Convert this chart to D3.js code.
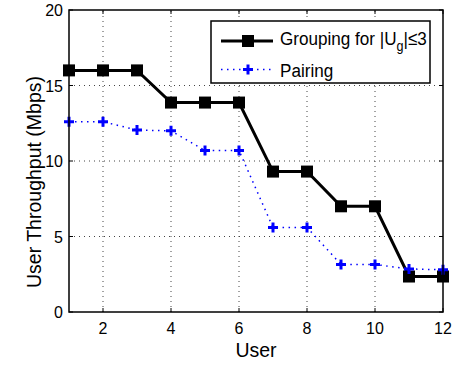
<!DOCTYPE html>
<html>
<head>
<meta charset="utf-8">
<script src="https://cdn.jsdelivr.net/npm/d3@7"></script>
<style>
  body { margin: 0; background: #fff; }
  text { font-family: "Liberation Sans", Arial, sans-serif; fill: #000; }
</style>
</head>
<body>
<svg></svg>
<script>
var width = 474;
var height = 367;

var margin = { left: 69, top: 10, right: 31, bottom: 55 };

// data
var users = [1, 2, 3, 4, 5, 6, 7, 8, 9, 10, 11, 12];
var grouping = [16, 16, 16, 13.87, 13.87, 13.87, 9.3, 9.3, 7.0, 7.0, 2.35, 2.35];
var pairing = [12.6, 12.6, 12.05, 12.0, 10.7, 10.7, 5.6, 5.6, 3.15, 3.15, 2.85, 2.8];
var xTicks = [2, 4, 6, 8, 10, 12];
var yTicks = [0, 5, 10, 15, 20];

var svg = d3.select("svg").attr("width", width).attr("height", height);

var x = d3.scaleLinear().domain([1, 12]).range([margin.left, width - margin.right]);
var y = d3.scaleLinear().domain([0, 20]).range([height - margin.bottom, margin.top]);

var x0 = x.range()[0], x1 = x.range()[1], y0 = y.range()[0], y1 = y.range()[1];

// grid
var grid = svg.append("g");
xTicks.filter(d => d > 1 && d < 12).forEach(function(t) {
  grid.append("line").attr("x1", x(t)).attr("x2", x(t)).attr("y1", y0).attr("y2", y1)
    .attr("stroke", "#444").attr("stroke-width", 1).attr("stroke-dasharray", "1 4");
});
yTicks.filter(d => d > 0 && d < 20).forEach(function(t) {
  grid.append("line").attr("y1", y(t)).attr("y2", y(t)).attr("x1", x0).attr("x2", x1)
    .attr("stroke", "#444").attr("stroke-width", 1).attr("stroke-dasharray", "1 4");
});

// inward ticks on all four sides
var tl = 4;
xTicks.forEach(function(t) {
  grid.append("line").attr("x1", x(t)).attr("x2", x(t)).attr("y1", y0).attr("y2", y0 - tl).attr("stroke", "#000");
  grid.append("line").attr("x1", x(t)).attr("x2", x(t)).attr("y1", y1).attr("y2", y1 + tl).attr("stroke", "#000");
});
yTicks.forEach(function(t) {
  grid.append("line").attr("y1", y(t)).attr("y2", y(t)).attr("x1", x0).attr("x2", x0 + tl).attr("stroke", "#000");
  grid.append("line").attr("y1", y(t)).attr("y2", y(t)).attr("x1", x1).attr("x2", x1 - tl).attr("stroke", "#000");
});

// tick labels
svg.selectAll("text.xt").data(xTicks).enter().append("text")
  .attr("x", d => x(d)).attr("y", y0 + 22)
  .attr("text-anchor", "middle").style("font-size", "16px").text(d => d);
svg.selectAll("text.yt").data(yTicks).enter().append("text")
  .attr("x", x0 - 6).attr("y", d => y(d) + 6)
  .attr("text-anchor", "end").style("font-size", "16px").text(d => d);

// axis titles
svg.append("text").attr("x", (x0 + x1) / 2).attr("y", 357)
  .attr("text-anchor", "middle").style("font-size", "19.5px").text("User");
svg.append("text").attr("transform", "translate(41,182) rotate(-90)")
  .attr("text-anchor", "middle").style("font-size", "19.5px").text("User Throughput (Mbps)");

var line = d3.line().x((d, i) => x(users[i])).y(d => y(d));

var sq = 12;
function plus(g, cx, cy) {
  var r = 5;
  g.append("path").attr("d", "M" + (cx - r) + "," + cy + "H" + (cx + r) + "M" + cx + "," + (cy - r) + "V" + (cy + r))
    .attr("stroke", "#0000ff").attr("stroke-width", 3).attr("fill", "none");
}

// grouping series
svg.append("path").datum(grouping).attr("d", line)
  .attr("fill", "none").attr("stroke", "#000").attr("stroke-width", 3);
svg.selectAll("rect.g").data(grouping).enter().append("rect")
  .attr("x", (d, i) => x(users[i]) - sq / 2).attr("y", d => y(d) - sq / 2)
  .attr("width", sq).attr("height", sq).attr("fill", "#000");

// pairing series
svg.append("path").datum(pairing).attr("d", line)
  .attr("fill", "none").attr("stroke", "#0000ff").attr("stroke-width", 1.5)
  .attr("stroke-dasharray", "1.5 4.5");
pairing.forEach(function(d, i) { plus(svg, x(users[i]), y(d)); });

// frame
svg.append("rect").attr("x", x0).attr("y", y1).attr("width", x1 - x0).attr("height", y0 - y1)
  .attr("fill", "none").attr("stroke", "#000").attr("stroke-width", 1.5);

// legend
var lg = svg.append("g");
lg.append("rect").attr("x", 211).attr("y", 21).attr("width", 219).attr("height", 62)
  .attr("fill", "#fff").attr("stroke", "#000").attr("stroke-width", 1.5);
lg.append("line").attr("x1", 221).attr("x2", 273).attr("y1", 41).attr("y2", 41)
  .attr("stroke", "#000").attr("stroke-width", 3);
lg.append("rect").attr("x", 248 - sq / 2).attr("y", 41 - sq / 2).attr("width", sq).attr("height", sq).attr("fill", "#000");
lg.append("line").attr("x1", 221).attr("x2", 273).attr("y1", 69.5).attr("y2", 69.5)
  .attr("stroke", "#0000ff").attr("stroke-width", 1.5).attr("stroke-dasharray", "1.5 4.5");
plus(lg, 248, 69.5);
var t1 = lg.append("text").attr("transform", "translate(280,44.5) scale(0.9,1)").style("font-size", "19px");
t1.append("tspan").text("Grouping for |U");
t1.append("tspan").attr("dy", 6).style("font-size", "14px").text("g");
t1.append("tspan").attr("dy", -6).text("|≤3");
lg.append("text").attr("transform", "translate(280,77) scale(0.9,1)").style("font-size", "19px").text("Pairing");
</script>
</body>
</html>
